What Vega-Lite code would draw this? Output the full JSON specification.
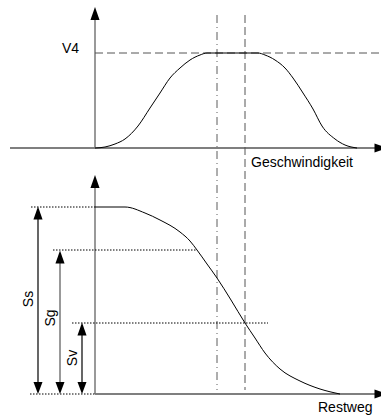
{
  "$schema": "https://vega.github.io/schema/vega-lite/v6.json",
  "width": 381,
  "height": 419,
  "padding": 0,
  "autosize": {"type": "none"},
  "config": {"view": {"stroke": null}},
  "datasets": {
    "curves": [
      {"s": "top", "i": 0, "x": 95, "y": 148},
      {"s": "top", "i": 1, "x": 105, "y": 147},
      {"s": "top", "i": 2, "x": 115, "y": 144},
      {"s": "top", "i": 3, "x": 125, "y": 139},
      {"s": "top", "i": 4, "x": 138, "y": 126},
      {"s": "top", "i": 5, "x": 150, "y": 108},
      {"s": "top", "i": 6, "x": 160, "y": 93},
      {"s": "top", "i": 7, "x": 170, "y": 78},
      {"s": "top", "i": 8, "x": 180, "y": 68},
      {"s": "top", "i": 9, "x": 190, "y": 60},
      {"s": "top", "i": 10, "x": 200, "y": 55},
      {"s": "top", "i": 11, "x": 207, "y": 53},
      {"s": "top", "i": 12, "x": 258, "y": 53},
      {"s": "top", "i": 13, "x": 265, "y": 55},
      {"s": "top", "i": 14, "x": 275, "y": 60},
      {"s": "top", "i": 15, "x": 285, "y": 68},
      {"s": "top", "i": 16, "x": 293, "y": 78},
      {"s": "top", "i": 17, "x": 303, "y": 93},
      {"s": "top", "i": 18, "x": 313, "y": 109},
      {"s": "top", "i": 19, "x": 322, "y": 126},
      {"s": "top", "i": 20, "x": 335, "y": 139},
      {"s": "top", "i": 21, "x": 345, "y": 145},
      {"s": "top", "i": 22, "x": 357, "y": 148},
      {"s": "bot", "i": 0, "x": 95, "y": 207},
      {"s": "bot", "i": 1, "x": 125, "y": 207},
      {"s": "bot", "i": 2, "x": 145, "y": 213},
      {"s": "bot", "i": 3, "x": 160, "y": 220},
      {"s": "bot", "i": 4, "x": 180, "y": 232},
      {"s": "bot", "i": 5, "x": 190, "y": 241},
      {"s": "bot", "i": 6, "x": 197, "y": 250},
      {"s": "bot", "i": 7, "x": 207, "y": 264},
      {"s": "bot", "i": 8, "x": 217, "y": 278},
      {"s": "bot", "i": 9, "x": 231, "y": 300},
      {"s": "bot", "i": 10, "x": 245, "y": 323},
      {"s": "bot", "i": 11, "x": 255, "y": 338},
      {"s": "bot", "i": 12, "x": 265, "y": 353},
      {"s": "bot", "i": 13, "x": 280, "y": 369},
      {"s": "bot", "i": 14, "x": 300, "y": 381},
      {"s": "bot", "i": 15, "x": 320, "y": 389},
      {"s": "bot", "i": 16, "x": 340, "y": 394}
    ],
    "blacklines": [
      {"x": 10, "y": 148, "x2": 377, "y2": 148},
      {"x": 95, "y": 394, "x2": 377, "y2": 394},
      {"x": 38, "y": 215, "x2": 38, "y2": 386},
      {"x": 82, "y": 331, "x2": 82, "y2": 386}
    ],
    "graylines": [
      {"x": 95, "y": 18, "x2": 95, "y2": 148},
      {"x": 95, "y": 186, "x2": 95, "y2": 394},
      {"x": 60, "y": 259, "x2": 60, "y2": 386}
    ],
    "dashed": [
      {"x": 95, "y": 53, "x2": 381, "y2": 53},
      {"x": 245, "y": 15, "x2": 245, "y2": 390}
    ],
    "dashdot": [
      {"x": 217, "y": 15, "x2": 217, "y2": 390}
    ],
    "dotted": [
      {"x": 31, "y": 207, "x2": 95, "y2": 207},
      {"x": 53, "y": 250, "x2": 197, "y2": 250},
      {"x": 72, "y": 323, "x2": 268, "y2": 323},
      {"x": 30, "y": 394, "x2": 95, "y2": 394}
    ],
    "up": [
      {"x": 95, "y": 13.5},
      {"x": 95, "y": 181.5},
      {"x": 38, "y": 213},
      {"x": 60, "y": 257},
      {"x": 82, "y": 329}
    ],
    "down": [
      {"x": 38, "y": 388},
      {"x": 60, "y": 388},
      {"x": 82, "y": 388}
    ],
    "right": [
      {"x": 381, "y": 148},
      {"x": 381, "y": 394}
    ],
    "labels": [
      {"x": 62, "y": 53, "t": "V4"},
      {"x": 251, "y": 167, "t": "Geschwindigkeit"},
      {"x": 318, "y": 411.5, "t": "Restweg"}
    ],
    "vlabels": [
      {"x": 33, "y": 299, "t": "Ss"},
      {"x": 55, "y": 318, "t": "Sg"},
      {"x": 76.5, "y": 358, "t": "Sv"}
    ]
  },
  "encoding": {
    "x": {"field": "x", "type": "quantitative", "axis": null, "scale": {"domain": [0, 381], "nice": false, "zero": false}},
    "y": {"field": "y", "type": "quantitative", "axis": null, "scale": {"domain": [0, 419], "nice": false, "zero": false, "reverse": true}}
  },
  "layer": [
    {
      "data": {"name": "blacklines"},
      "mark": {"type": "rule", "strokeWidth": 1.2, "color": "#000000"},
      "encoding": {"x2": {"field": "x2"}, "y2": {"field": "y2"}}
    },
    {
      "data": {"name": "graylines"},
      "mark": {"type": "rule", "strokeWidth": 1.5, "color": "#777777"},
      "encoding": {"x2": {"field": "x2"}, "y2": {"field": "y2"}}
    },
    {
      "data": {"name": "dashed"},
      "mark": {"type": "rule", "strokeWidth": 1, "strokeDash": [8, 4], "color": "#555555"},
      "encoding": {"x2": {"field": "x2"}, "y2": {"field": "y2"}}
    },
    {
      "data": {"name": "dashdot"},
      "mark": {"type": "rule", "strokeWidth": 0.8, "strokeDash": [8, 4, 1, 4], "color": "#333333"},
      "encoding": {"x2": {"field": "x2"}, "y2": {"field": "y2"}}
    },
    {
      "data": {"name": "dotted"},
      "mark": {"type": "rule", "strokeWidth": 1, "strokeDash": [1.5, 1.5], "color": "#000000"},
      "encoding": {"x2": {"field": "x2"}, "y2": {"field": "y2"}}
    },
    {
      "data": {"name": "curves"},
      "mark": {"type": "line", "interpolate": "monotone", "strokeWidth": 1, "color": "#000000"},
      "encoding": {
        "detail": {"field": "s", "type": "nominal"},
        "order": {"field": "i", "type": "quantitative"}
      }
    },
    {
      "data": {"name": "up"},
      "mark": {"type": "point", "filled": true, "opacity": 1, "size": 169, "color": "#000000", "shape": "M0,-1L0.7,1L-0.7,1Z"}
    },
    {
      "data": {"name": "down"},
      "mark": {"type": "point", "filled": true, "opacity": 1, "size": 144, "color": "#000000", "shape": "M0,1L0.75,-1L-0.75,-1Z"}
    },
    {
      "data": {"name": "right"},
      "mark": {"type": "point", "filled": true, "opacity": 1, "size": 169, "color": "#000000", "shape": "M1,0L-1,0.7L-1,-0.7Z"}
    },
    {
      "data": {"name": "labels"},
      "mark": {"type": "text", "font": "Liberation Sans", "fontSize": 14, "align": "left", "baseline": "alphabetic", "color": "#000000"},
      "encoding": {"text": {"field": "t"}}
    },
    {
      "data": {"name": "vlabels"},
      "mark": {"type": "text", "font": "Liberation Sans", "fontSize": 14, "align": "center", "baseline": "alphabetic", "angle": 270, "color": "#000000"},
      "encoding": {"text": {"field": "t"}}
    }
  ]
}
